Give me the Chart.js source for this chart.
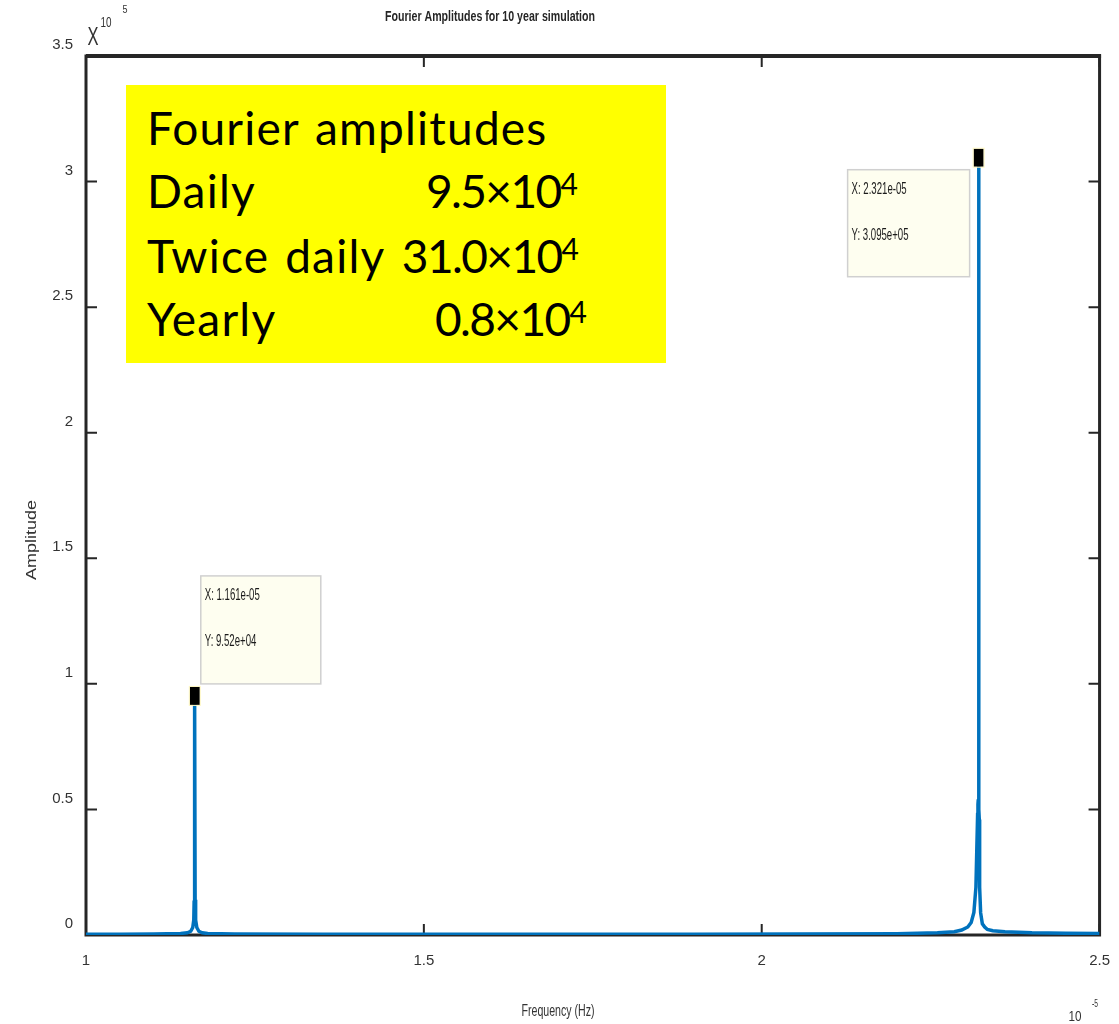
<!DOCTYPE html>
<html>
<head>
<meta charset="utf-8">
<title>Fourier Amplitudes for 10 year simulation</title>
<script src="https://cdn.jsdelivr.net/npm/chart.js@4.4.1/dist/chart.umd.min.js"></script>
<style>
    body { margin: 0; background: #fff; }
    #wrap { position: relative; width: 1119px; height: 1024px; }
    #note {
        position: absolute; left: 126px; top: 85px; width: 540px; height: 278px;
        background: #ffff00; font-family: Lato, "Open Sans", sans-serif; font-size: 46px; color: #000;
    }
    #note .row { position: absolute; left: 0; right: 0; height: 46px; line-height: 46px; white-space: nowrap; }
    #note .lbl { position: absolute; left: 21px; letter-spacing: 1.2px; word-spacing: 3px; }
    #note .val { position: absolute; letter-spacing: -1.6px; }
    #note sup { font-size: 30px; line-height: 0; vertical-align: 13px; letter-spacing: 0; }
</style>
</head>
<body>
<div id="wrap">
    <canvas id="fftChart" width="1119" height="1024"></canvas>
    <div id="note"></div>
</div>
<script>
// frequency in units of 1e-5 Hz, amplitude
const freq = [
    1.0, 1.05, 1.10, 1.14, 1.15, 1.155, 1.158, 1.1595, 1.160, 1.1605,
    1.161, 1.1615, 1.162, 1.1625, 1.164, 1.167, 1.172, 1.18, 1.22, 1.35,
    1.5, 1.7, 1.9, 2.05, 2.2, 2.26, 2.285, 2.296, 2.305, 2.31,
    2.314, 2.317, 2.3195, 2.3200, 2.3205, 2.321, 2.3215, 2.322, 2.3225, 2.324,
    2.3265, 2.330, 2.334, 2.342, 2.36, 2.40, 2.45, 2.5
];
const amp = [
    300, 300, 400, 600, 900, 1500, 3000, 6000, 13000, 14000,
    95200, 14000, 13000, 6000, 3000, 1500, 900, 600, 400, 300,
    250, 250, 300, 350, 500, 900, 1300, 2000, 3200, 5000,
    9000, 19000, 48000, 52000, 54000, 309500, 50000, 46000, 19000, 8800,
    4500, 3200, 2200, 1700, 1300, 900, 700, 600
];

// data tips (MATLAB style) on the two main peaks
const peakFreq = [1.161, 2.321];
const peakAmp = [95200, 309500];

const xTicks = [1, 1.5, 2, 2.5];
const yTicks = [0, 50000, 100000, 150000, 200000, 250000, 300000, 350000];

// text box contents
const noteTitle = 'Fourier amplitudes';
const noteLabels = ['Daily', 'Twice daily', 'Yearly'];
const noteValues = ['9.5', '31.0', '0.8'];

const axisColor = '#262626';
const lineColor = '#0072BD';
const narrow = '"Liberation Sans Narrow", "Liberation Sans", Arial, sans-serif';

// build the yellow note
const note = document.getElementById('note');
const rowTops = [20, 83, 148, 211];
const valRight = [88, 87, 79];
note.innerHTML = '<div class="row" style="top:' + rowTops[0] + 'px"><span class="lbl">' + noteTitle + '</span></div>';
noteLabels.forEach((lbl, i) => {
    note.innerHTML += '<div class="row" style="top:' + rowTops[i + 1] + 'px">' +
        '<span class="lbl">' + lbl + '</span>' +
        '<span class="val" style="right:' + valRight[i] + 'px">' + noteValues[i] + '×10<sup>4</sup></span></div>';
});

function fmtExp(v) {
    const parts = v.toExponential(3).split('e');
    let m = parts[0];
    if (m.indexOf('.') >= 0) m = m.replace(/0+$/, '').replace(/\.$/, '');
    const sign = parts[1][0];
    return m + 'e' + sign + parts[1].slice(1).padStart(2, '0');
}

// draw text squeezed horizontally to a given width (the reference is compressed)
function drawFit(ctx, text, x, y, font, width, align, color) {
    ctx.save();
    ctx.font = font;
    ctx.fillStyle = color || axisColor;
    ctx.textBaseline = 'middle';
    ctx.textAlign = align || 'center';
    const w = ctx.measureText(text).width;
    ctx.translate(x, y);
    ctx.scale(width / w, 1);
    ctx.fillText(text, 0, 0);
    ctx.restore();
}

const framePlugin = {
    id: 'frame',
    beforeDatasetsDraw(chart) {
        const { ctx, chartArea: a, scales } = chart;
        ctx.save();
        ctx.strokeStyle = axisColor;
        // inward tick marks on all four sides
        ctx.lineWidth = 2;
        ctx.beginPath();
        xTicks.forEach(v => {
            const px = scales.x.getPixelForValue(v);
            ctx.moveTo(px, a.bottom); ctx.lineTo(px, a.bottom - 11);
            ctx.moveTo(px, a.top); ctx.lineTo(px, a.top + 11);
        });
        yTicks.forEach(v => {
            const py = scales.y.getPixelForValue(v);
            ctx.moveTo(a.left, py); ctx.lineTo(a.left + 11, py);
            ctx.moveTo(a.right, py); ctx.lineTo(a.right - 11, py);
        });
        ctx.stroke();
        // box
        ctx.lineWidth = 3;
        ctx.strokeRect(a.left, a.top, a.right - a.left, a.bottom - a.top);
        ctx.lineWidth = 4;
        ctx.beginPath();
        ctx.moveTo(a.left, a.top); ctx.lineTo(a.right + 1.5, a.top);
        ctx.stroke();
        ctx.restore();
    },
    afterDatasetsDraw(chart) {
        const { ctx, scales } = chart;
        const tips = [
            { dx: 6, dy: -120, w: 120, h: 108 },
            { dx: -131, dy: 12, w: 122, h: 107 }
        ];
        peakFreq.forEach((f, i) => {
            const px = scales.x.getPixelForValue(f);
            const py = scales.y.getPixelForValue(peakAmp[i]);
            const t = tips[i];
            ctx.save();
            // tip box
            ctx.fillStyle = '#fefef0';
            ctx.strokeStyle = '#d0d0d0';
            ctx.lineWidth = 1.5;
            ctx.fillRect(px + t.dx, py + t.dy, t.w, t.h);
            ctx.strokeRect(px + t.dx, py + t.dy, t.w, t.h);
            const xs = 'X: ' + fmtExp(f * 1e-5);
            const ys = 'Y: ' + fmtExp(peakAmp[i]);
            ctx.font = '16px ' + narrow;
            const sx = 55 / ctx.measureText('X: 1.161e-05').width;
            [xs, ys].forEach((s, k) => {
                ctx.save();
                ctx.font = '16px ' + narrow;
                ctx.fillStyle = '#1a1a1a';
                ctx.textBaseline = 'middle';
                ctx.translate(px + t.dx + 4, py + t.dy + 20 + k * 46);
                ctx.scale(sx, 1);
                ctx.fillText(s, 0, 0);
                ctx.restore();
            });
            // marker
            ctx.fillStyle = '#000';
            ctx.strokeStyle = '#fff8c0';
            ctx.lineWidth = 1;
            ctx.fillRect(px - 5, py - 9, 10, 18);
            ctx.strokeRect(px - 5.5, py - 9.5, 11, 19);
            ctx.restore();
        });
    },
    afterDraw(chart) {
        const { ctx } = chart;
        drawFit(ctx, 'Fourier Amplitudes for 10 year simulation', 490, 17, 'bold 15px ' + narrow, 210);
        drawFit(ctx, 'Frequency (Hz)', 558, 1012, '16px ' + narrow, 73, 'center', '#333');
        ctx.save();
        ctx.translate(32, 540);
        ctx.rotate(-Math.PI / 2);
        ctx.font = '18px "Liberation Sans", Arial, sans-serif';
        ctx.fillStyle = '#333';
        ctx.textAlign = 'center';
        ctx.textBaseline = 'middle';
        ctx.scale(1, 0.8);
        ctx.fillText('Amplitude', 0, 0);
        ctx.restore();
        // exponent labels
        drawFit(ctx, 'X', 93, 38, '25px "Liberation Sans", Arial, sans-serif', 11, 'center', '#333');
        drawFit(ctx, '10', 106, 23, '14px ' + narrow, 11, 'center', '#333');
        drawFit(ctx, '5', 125, 10, '11px ' + narrow, 5, 'center', '#333');
        drawFit(ctx, '10', 1075, 1017, '15px ' + narrow, 13, 'center', '#333');
        drawFit(ctx, '-5', 1095, 1004, '11px ' + narrow, 6, 'center', '#333');
    }
};

const ctx = document.getElementById('fftChart').getContext('2d');
new Chart(ctx, {
    type: 'line',
    data: {
        datasets: [{
            label: 'Amplitude',
            data: freq.map((f, i) => ({ x: f, y: amp[i] })),
            borderColor: lineColor,
            borderWidth: 3.5,
            pointRadius: 0,
            tension: 0,
            fill: false
        }]
    },
    options: {
        responsive: false,
        animation: false,
        devicePixelRatio: 1,
        layout: { padding: { top: 56, right: 14, left: 0, bottom: 0 } },
        plugins: {
            legend: { display: false },
            tooltip: { enabled: false }
        },
        scales: {
            x: {
                type: 'linear',
                min: 1,
                max: 2.5,
                afterBuildTicks: scale => { scale.ticks = xTicks.map(v => ({ value: v })); },
                afterFit: scale => { scale.height = 89; },
                grid: { display: false, tickLength: 8 },
                border: { display: false },
                ticks: {
                    padding: 9,
                    maxRotation: 0,
                    color: '#333',
                    font: { family: narrow, size: 15 },
                    callback: v => String(v)
                }
            },
            y: {
                type: 'linear',
                min: 0,
                max: 350000,
                afterBuildTicks: scale => { scale.ticks = yTicks.map(v => ({ value: v })); },
                afterFit: scale => { scale.width = 86; },
                grid: { display: false, tickLength: 8 },
                border: { display: false },
                ticks: {
                    padding: 5,
                    labelOffset: -11,
                    color: '#333',
                    font: { family: narrow, size: 15 },
                    callback: v => String(v / 1e5)
                }
            }
        }
    },
    plugins: [framePlugin]
});
</script>
</body>
</html>
